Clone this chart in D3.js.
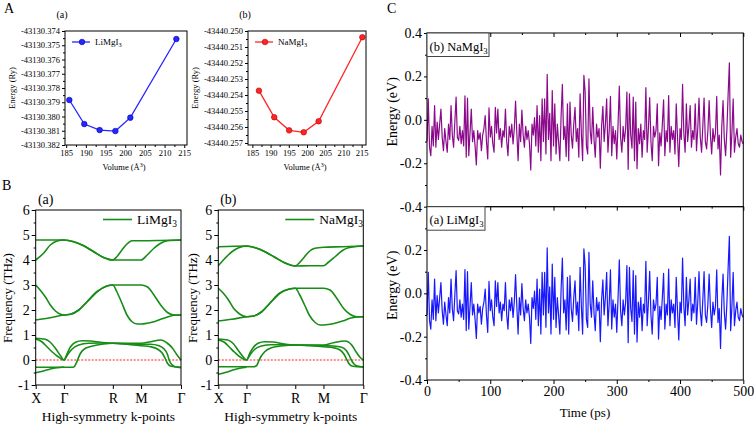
<!DOCTYPE html>
<html>
<head>
<meta charset="utf-8">
<script src="https://cdn.jsdelivr.net/npm/d3@7"></script>
<style>
  body { margin: 0; background: #fff; }
  svg { display: block; }
</style>
</head>
<body>
<div id="figure"></div>
<script>
// ---- Panel A: energy vs volume ----
const liVolume = [185.8, 189.6, 193.5, 197.5, 201.3, 213.0];
const liEnergy = [-43130.37884, -43130.38053, -43130.38095, -43130.38102, -43130.38008, -43130.37456];
const naVolume = [186.8, 191.0, 195.1, 199.1, 203.2, 215.2];
const naEnergy = [-43440.25373, -43440.25539, -43440.25621, -43440.25633, -43440.25564, -43440.25039];
const volumeTicks = [185, 190, 195, 200, 205, 210, 215];
const liEnergyTicks = [-43130.374, -43130.375, -43130.376, -43130.377, -43130.378, -43130.379, -43130.380, -43130.381, -43130.382];
const naEnergyTicks = [-43440.250, -43440.251, -43440.252, -43440.253, -43440.254, -43440.255, -43440.256, -43440.257];

// ---- Panel B: phonon dispersion, [k, frequency THz] ----
const kPoints = [0, 0.5, 1.366, 1.866, 2.573];
const kLabels = ['X', 'Γ', 'R', 'M', 'Γ'];
const freqTicks = [-1, 0, 1, 2, 3, 4, 5, 6];

const liBands = [
  [[0,4.8],[0.5,4.8],[0.676,4.73],[0.851,4.57],[1.027,4.33],[1.202,4.1],[1.366,4.0],[1.437,4.13],[1.527,4.4],[1.616,4.64],[1.705,4.77],[1.866,4.77],[2.2,4.78],[2.573,4.8]],
  [[0,4.0],[0.139,4.27],[0.259,4.6],[0.38,4.76],[0.5,4.8],[0.676,4.73],[0.851,4.57],[1.027,4.33],[1.202,4.1],[1.366,4.0],[1.616,4.0],[1.866,4.0],[1.974,4.2],[2.094,4.47],[2.213,4.67],[2.333,4.77],[2.573,4.8]],
  [[0,3.0],[0.078,2.8],[0.169,2.53],[0.259,2.2],[0.349,1.96],[0.44,1.83],[0.5,1.8],[0.617,1.83],[0.763,2.0],[0.91,2.33],[1.085,2.73],[1.261,2.96],[1.366,3.0],[1.616,3.0],[1.866,3.0],[1.974,2.93],[2.094,2.6],[2.213,2.2],[2.333,1.9],[2.453,1.8],[2.573,1.8]],
  [[0,1.6],[0.259,1.69],[0.5,1.8],[0.617,1.83],[0.763,2.0],[0.91,2.33],[1.085,2.73],[1.261,2.96],[1.366,3.0],[1.437,2.73],[1.527,2.27],[1.616,1.8],[1.705,1.53],[1.795,1.44],[1.866,1.44],[1.974,1.47],[2.094,1.53],[2.213,1.63],[2.333,1.72],[2.453,1.79],[2.573,1.8]],
  [[0,0.87],[0.169,0.83],[0.259,0.71],[0.349,0.47],[0.44,0.17],[0.5,0],[0.559,0.27],[0.617,0.53],[0.705,0.71],[0.822,0.77],[0.968,0.76],[1.144,0.71],[1.366,0.67],[1.616,0.67],[1.866,0.67],[2.034,0.73],[2.213,0.8],[2.333,0.67],[2.423,0.47],[2.513,0.17],[2.573,0]],
  [[0,0.84],[0.108,0.73],[0.199,0.53],[0.289,0.33],[0.38,0.16],[0.5,0],[0.57,0.23],[0.646,0.44],[0.763,0.6],[0.939,0.67],[1.144,0.68],[1.366,0.67],[1.616,0.65],[1.866,0.63],[2.034,0.63],[2.184,0.57],[2.273,0.44],[2.333,0.23],[2.363,0],[2.405,-0.17],[2.465,-0.27],[2.573,-0.31]],
  [[0,-0.29],[0.25,-0.29],[0.5,-0.29],[0.617,-0.29],[0.676,-0.28],[0.717,-0.13],[0.746,0.03],[0.793,0.27],[0.88,0.47],[1.027,0.57],[1.203,0.64],[1.366,0.67],[1.616,0.63],[1.866,0.57],[2.034,0.53],[2.154,0.44],[2.243,0.27],[2.291,0.07],[2.333,-0.13],[2.393,-0.25],[2.573,-0.29]],
  [[0,-0.51],[0.139,-0.44],[0.259,-0.36],[0.38,-0.31],[0.5,-0.28]]
];

const naBands = [
  [[0,4.53],[0.5,4.56],[0.656,4.49],[0.829,4.33],[1.002,4.11],[1.175,3.89],[1.366,3.76],[1.439,3.89],[1.531,4.13],[1.622,4.36],[1.714,4.47],[1.866,4.51],[2.2,4.53],[2.573,4.56]],
  [[0,3.77],[0.12,4.07],[0.241,4.33],[0.361,4.49],[0.5,4.56],[0.656,4.49],[0.829,4.33],[1.002,4.11],[1.175,3.89],[1.366,3.76],[1.616,3.77],[1.866,3.77],[1.954,3.91],[2.072,4.13],[2.19,4.36],[2.308,4.49],[2.573,4.56]],
  [[0,2.87],[0.09,2.67],[0.181,2.4],[0.271,2.07],[0.361,1.87],[0.5,1.73],[0.627,1.76],[0.771,1.93],[0.916,2.27],[1.089,2.67],[1.262,2.84],[1.366,2.87],[1.616,2.87],[1.866,2.87],[1.984,2.8],[2.102,2.47],[2.22,2.07],[2.337,1.83],[2.455,1.73],[2.573,1.73]],
  [[0,1.56],[0.241,1.63],[0.5,1.73],[0.627,1.76],[0.771,1.93],[0.916,2.27],[1.089,2.67],[1.262,2.84],[1.366,2.87],[1.439,2.63],[1.531,2.2],[1.622,1.77],[1.714,1.51],[1.805,1.4],[1.866,1.4],[1.984,1.43],[2.102,1.49],[2.22,1.57],[2.337,1.67],[2.455,1.72],[2.573,1.73]],
  [[0,0.84],[0.169,0.8],[0.259,0.67],[0.349,0.4],[0.44,0.13],[0.5,0],[0.559,0.27],[0.618,0.49],[0.706,0.67],[0.824,0.73],[0.971,0.72],[1.148,0.65],[1.366,0.6],[1.616,0.6],[1.866,0.6],[2.043,0.69],[2.249,0.76],[2.367,0.6],[2.443,0.33],[2.514,0.11],[2.573,0]],
  [[0,0.8],[0.108,0.71],[0.199,0.51],[0.289,0.31],[0.38,0.13],[0.5,0],[0.571,0.23],[0.647,0.43],[0.765,0.56],[0.942,0.61],[1.148,0.61],[1.366,0.6],[1.616,0.59],[1.866,0.57],[2.043,0.56],[2.19,0.51],[2.278,0.36],[2.326,0.17],[2.361,0],[2.408,-0.16],[2.467,-0.24],[2.573,-0.28]],
  [[0,-0.27],[0.25,-0.27],[0.5,-0.27],[0.618,-0.27],[0.677,-0.23],[0.718,-0.04],[0.753,0.12],[0.824,0.33],[0.942,0.49],[1.148,0.57],[1.366,0.6],[1.616,0.57],[1.866,0.53],[2.043,0.49],[2.161,0.4],[2.231,0.23],[2.278,0.03],[2.32,-0.15],[2.385,-0.25],[2.573,-0.28]],
  [[0,-0.57],[0.139,-0.49],[0.259,-0.4],[0.38,-0.33],[0.5,-0.29]]
];

// ---- Panel C: MD energy fluctuation (eV), one value every 2 ps ----
const timeStep = 2;
const mdEnergy = [
  -0.10, 0.097, -0.126, -0.165, -0.03, -0.12, 0.066, -0.126, -0.01, -0.09,
  -0.02, 0.05, -0.08, -0.142, -0.04, -0.10, -0.149, -0.02, -0.09, 0.066,
  -0.07, -0.126, -0.01, 0.105, -0.08, -0.095, -0.03, -0.11, -0.05, -0.12,
  0.11, -0.172, 0.10, -0.165, -0.06, 0.05, -0.10, -0.05, -0.12, -0.208,
  -0.05, -0.09, -0.06, -0.142, -0.07, -0.04, 0.02, -0.10, -0.18, 0.055,
  -0.08, -0.03, -0.11, -0.149, 0.058, -0.06, 0.05, -0.09, -0.04, -0.126,
  -0.05, -0.08, 0.05, -0.10, -0.165, -0.03, -0.08, -0.02, -0.111, -0.04,
  0.086, -0.06, -0.188, -0.02, -0.10, 0.045, -0.07, -0.126, -0.03, -0.09,
  -0.05, -0.11, -0.231, -0.02, -0.07, 0.01, -0.12, 0.066, -0.149, 0.02,
  -0.188, 0.097, -0.10, 0.097, -0.157, 0.21, -0.09, 0.03, -0.188, 0.135,
  -0.12, 0.074, -0.157, -0.02, -0.10, -0.188, 0.02, 0.163, -0.09, -0.03,
  -0.169, 0.074, -0.188, 0.082, -0.07, -0.13, -0.02, 0.058, -0.10, -0.04,
  -0.172, 0.12, -0.06, -0.188, 0.205, 0.128, -0.12, -0.157, 0.189, -0.05,
  -0.11, 0.058, -0.09, -0.172, -0.02, -0.08, -0.04, -0.223, -0.03, 0.062,
  -0.10, -0.02, 0.097, -0.149, -0.05, 0.108, -0.165, -0.03, -0.11, -0.05,
  -0.18, -0.02, 0.155, -0.08, -0.149, -0.03, -0.10, -0.04, 0.128, -0.228,
  0.12, -0.07, -0.13, 0.105, -0.188, 0.082, -0.225, -0.04, -0.11, -0.02,
  -0.172, -0.05, -0.09, 0.148, -0.149, -0.04, 0.102, -0.10, -0.188, -0.03,
  -0.08, -0.05, 0.074, -0.211, -0.06, -0.12, -0.02, 0.092, -0.165, -0.05,
  -0.10, 0.112, -0.149, -0.03, -0.09, -0.05, -0.157, 0.074, -0.08, -0.215,
  -0.04, -0.09, 0.163, -0.06, -0.149, 0.074, -0.10, -0.03, 0.066, -0.126,
  -0.05, -0.09, 0.074, -0.142, -0.04, 0.10, -0.08, -0.149, -0.03, 0.10,
  -0.10, -0.134, -0.05, 0.089, -0.07, -0.157, -0.04, -0.10, -0.06, 0.108,
  -0.134, -0.07, -0.254, -0.03, 0.089, -0.09, -0.165, -0.05, 0.117, 0.263,
  -0.172, -0.06, 0.097, -0.149, -0.08, -0.04, -0.11, -0.126, -0.07, -0.10,
  -0.111
];
const timeTicks = [0, 100, 200, 300, 400, 500];
const mdTicks = [-0.4, -0.2, 0.0, 0.2, 0.4];

const svg = d3.select('#figure')
  .append('svg')
  .attr('width', 754)
  .attr('height', 426)
  .attr('font-family', '"Liberation Serif", "Times New Roman", serif');

// remove d3's default axis font and the domain line (frames are drawn as rects)
function styleAxis(sel, size) {
  sel.select('.domain').remove();
  sel.attr('font-family', null).attr('font-size', size);
  sel.selectAll('text').attr('fill', '#000');
}

function frame(left, right, top, bottom) {
  svg.append('rect')
    .attr('x', left).attr('y', top)
    .attr('width', right - left).attr('height', bottom - top)
    .attr('fill', 'none').attr('stroke', '#000').attr('stroke-width', 1);
}

function label(x, y, txt, size, opts = {}) {
  const t = svg.append('text')
    .attr('x', x).attr('y', y)
    .attr('font-size', size)
    .attr('text-anchor', opts.anchor || 'start');
  t.append('tspan').text(txt);
  if (opts.sub) {
    t.append('tspan').attr('dy', size * 0.25).attr('font-size', size * 0.7).text(opts.sub);
  }
  return t;
}

function yLabel(x, y, txt, size) {
  svg.append('text')
    .attr('transform', `translate(${x},${y}) rotate(-90)`)
    .attr('text-anchor', 'middle')
    .attr('font-size', size)
    .text(txt);
}

// ---------- Panel A ----------
function drawEos(p) {
  const x = d3.scaleLinear().domain(p.xDomain).range([p.left, p.right]);
  const y = d3.scaleLinear().domain(p.yDomain).range([p.bottom, p.top]);

  const minorX = d3.pairs(volumeTicks).map(d => (d[0] + d[1]) / 2);
  const minorY = d3.pairs(p.yTicks).map(d => (d[0] + d[1]) / 2);

  svg.append('g').attr('transform', `translate(0,${p.bottom})`)
    .call(d3.axisBottom(x).tickValues(minorX).tickSize(2).tickFormat(''))
    .call(styleAxis, 8.5);
  svg.append('g').attr('transform', `translate(${p.left},0)`)
    .call(d3.axisLeft(y).tickValues(minorY).tickSize(2).tickFormat(''))
    .call(styleAxis, 8.5);

  svg.append('g').attr('transform', `translate(0,${p.bottom})`)
    .call(d3.axisBottom(x).tickValues(volumeTicks).tickSize(3).tickPadding(2).tickFormat(d => String(d)))
    .call(styleAxis, 8.5);
  svg.append('g').attr('transform', `translate(${p.left},0)`)
    .call(d3.axisLeft(y).tickValues(p.yTicks).tickSize(3).tickPadding(2).tickFormat(d => d.toFixed(3)))
    .call(styleAxis, 8.5);

  const pts = p.volume.map((v, i) => [v, p.energy[i]]);
  svg.append('path')
    .datum(pts)
    .attr('fill', 'none')
    .attr('stroke', p.color)
    .attr('stroke-width', 1.3)
    .attr('d', d3.line().x(d => x(d[0])).y(d => y(d[1])));
  svg.selectAll(null)
    .data(pts)
    .enter()
    .append('circle')
    .attr('cx', d => x(d[0]))
    .attr('cy', d => y(d[1]))
    .attr('r', 2.8)
    .attr('fill', p.color)
    .attr('stroke', p.dark)
    .attr('stroke-width', 0.6);

  frame(p.left, p.right, p.top, p.bottom);

  // legend
  const lx = p.left + 7, ly = p.top + 11;
  svg.append('line').attr('x1', lx).attr('x2', lx + 18).attr('y1', ly).attr('y2', ly)
    .attr('stroke', p.color).attr('stroke-width', 1.3);
  svg.append('circle').attr('cx', lx + 10).attr('cy', ly).attr('r', 2.8)
    .attr('fill', p.color).attr('stroke', p.dark).attr('stroke-width', 0.6);
  label(lx + 23, ly + 3, p.name, 9, { sub: '3' });

  label((p.left + p.right) / 2 - 2, 170, 'Volume (Å', 8.5, { anchor: 'middle' })
    .call(t => {
      t.append('tspan').attr('dy', -3).attr('font-size', 6).text('3');
      t.append('tspan').attr('dy', 3).text(')');
    });
  yLabel(p.yLabelX, 88, 'Energy (Ry)', 8.5);
  label(p.tagX, 18, p.tag, 10, { anchor: 'middle' });
}

drawEos({
  left: 65, right: 187, top: 31, bottom: 145,
  xDomain: [184.7, 215.7], yDomain: [-43130.382, -43130.374],
  yTicks: liEnergyTicks, volume: liVolume, energy: liEnergy,
  color: '#2626ff', dark: '#0000b0', name: 'LiMgI', tag: '(a)', tagX: 62, yLabelX: 15
});
drawEos({
  left: 248, right: 366, top: 31, bottom: 145,
  xDomain: [183.8, 216.2], yDomain: [-43440.257125, -43440.250],
  yTicks: naEnergyTicks, volume: naVolume, energy: naEnergy,
  color: '#ff2626', dark: '#b00000', name: 'NaMgI', tag: '(b)', tagX: 245, yLabelX: 198
});
label(4, 13, 'A', 14);

// ---------- Panel B ----------
function drawBands(p) {
  const x = d3.scaleLinear().domain([0, kPoints[kPoints.length - 1]]).range([p.left, p.right]);
  const y = d3.scaleLinear().domain([-1, 6]).range([p.bottom, p.top]);

  const minorY = d3.pairs(freqTicks).map(d => (d[0] + d[1]) / 2);
  svg.append('g').attr('transform', `translate(${p.left},0)`)
    .call(d3.axisLeft(y).tickValues(minorY).tickSize(2).tickFormat(''))
    .call(styleAxis, 14);
  svg.append('g').attr('transform', `translate(${p.left},0)`)
    .call(d3.axisLeft(y).tickValues(freqTicks).tickSize(4).tickPadding(2).tickFormat(d => String(d)))
    .call(styleAxis, 14);
  svg.append('g').attr('transform', `translate(0,${p.bottom})`)
    .call(d3.axisBottom(x).tickValues(kPoints).tickSize(4).tickPadding(4).tickFormat((d, i) => kLabels[i]))
    .call(styleAxis, 14);

  svg.append('line')
    .attr('x1', x(0)).attr('x2', x(kPoints[kPoints.length - 1]))
    .attr('y1', y(0)).attr('y2', y(0))
    .attr('stroke', '#ff2020').attr('stroke-width', 1.2)
    .attr('stroke-dasharray', '2,1.5');

  const line = d3.line().x(d => x(d[0])).y(d => y(d[1])).curve(d3.curveMonotoneX);
  svg.append('g')
    .selectAll('path')
    .data(p.bands)
    .enter()
    .append('path')
    .attr('fill', 'none')
    .attr('stroke', '#178c17')
    .attr('stroke-width', 1.6)
    .attr('d', line);

  frame(p.left, p.right, p.top, p.bottom);

  // legend
  svg.append('line').attr('x1', p.right - 78).attr('x2', p.right - 49)
    .attr('y1', p.top + 9.5).attr('y2', p.top + 9.5)
    .attr('stroke', '#178c17').attr('stroke-width', 1.6);
  label(p.right - 44, p.top + 14, p.name, 13.5, { sub: '3' });

  label((p.left + p.right) / 2, 421, 'High-symmetry k-points', 13.5, { anchor: 'middle' });
  yLabel(p.yLabelX, 298, 'Frequency (THz)', 13);
  label(p.left + 10, 204, p.tag, 14, { anchor: 'middle' });
}

drawBands({ left: 35.7, right: 181, top: 210, bottom: 385, bands: liBands, name: 'LiMgI', tag: '(a)', yLabelX: 12 });
drawBands({ left: 218.3, right: 363.3, top: 210, bottom: 385, bands: naBands, name: 'NaMgI', tag: '(b)', yLabelX: 197 });
label(2, 190, 'B', 14);

// ---------- Panel C ----------
const mdX = d3.scaleLinear().domain([0, 500]).range([427, 743.3]);
const minorT = d3.range(50, 500, 100);

function drawMd(p) {
  const y = d3.scaleLinear().domain([-0.4, 0.4]).range([p.bottom, p.top]);
  const minorE = d3.pairs(mdTicks).map(d => (d[0] + d[1]) / 2);

  svg.append('g').attr('transform', 'translate(427,0)')
    .call(d3.axisLeft(y).tickValues(minorE).tickSize(2).tickFormat(''))
    .call(styleAxis, 14);
  svg.append('g').attr('transform', 'translate(427,0)')
    .call(d3.axisLeft(y).tickValues(p.showTop ? mdTicks : mdTicks.slice(0, 4)).tickSize(3).tickPadding(2).tickFormat(d => d.toFixed(1)))
    .call(styleAxis, 14);

  // ticks hanging from the panel's top edge into the plot
  svg.append('g').attr('transform', `translate(0,${p.top})`)
    .call(d3.axisBottom(mdX).tickValues(timeTicks).tickSize(4).tickFormat(''))
    .call(styleAxis, 14);
  svg.append('g').attr('transform', `translate(0,${p.top})`)
    .call(d3.axisBottom(mdX).tickValues(minorT).tickSize(2).tickFormat(''))
    .call(styleAxis, 14);

  if (p.xLabels) {
    svg.append('g').attr('transform', `translate(0,${p.bottom})`)
      .call(d3.axisBottom(mdX).tickValues(minorT).tickSize(2).tickFormat(''))
      .call(styleAxis, 14);
    svg.append('g').attr('transform', `translate(0,${p.bottom})`)
      .call(d3.axisBottom(mdX).tickValues(timeTicks).tickSize(4).tickPadding(2).tickFormat(d => String(d)))
      .call(styleAxis, 14);
    label(585, 417, 'Time (ps)', 13, { anchor: 'middle' });
  }

  svg.append('path')
    .datum(mdEnergy)
    .attr('fill', 'none')
    .attr('stroke', p.color)
    .attr('stroke-width', 1.2)
    .attr('stroke-linejoin', 'round')
    .attr('d', d3.line().x((d, i) => mdX(i * timeStep)).y(d => y(d)));

  frame(427, 743.3, p.top, p.bottom);

  // boxed tag
  svg.append('rect')
    .attr('x', 427).attr('y', p.top)
    .attr('width', p.boxW).attr('height', 23.5)
    .attr('fill', '#fff').attr('stroke', '#444').attr('stroke-width', 1);
  label(429.5, p.top + 17.5, p.tag, 12.5, { sub: '3' });

  yLabel(397, (p.top + p.bottom) / 2 - 8, 'Energy (eV)', 14);
}

drawMd({ top: 33, bottom: 206.7, color: '#8b0a8b', tag: '(b) NaMgI', boxW: 62, showTop: true, xLabels: false });
drawMd({ top: 206.7, bottom: 380, color: '#1818ff', tag: '(a) LiMgI', boxW: 58, showTop: false, xLabels: true });
label(387, 13, 'C', 14);
</script>
</body>
</html>
